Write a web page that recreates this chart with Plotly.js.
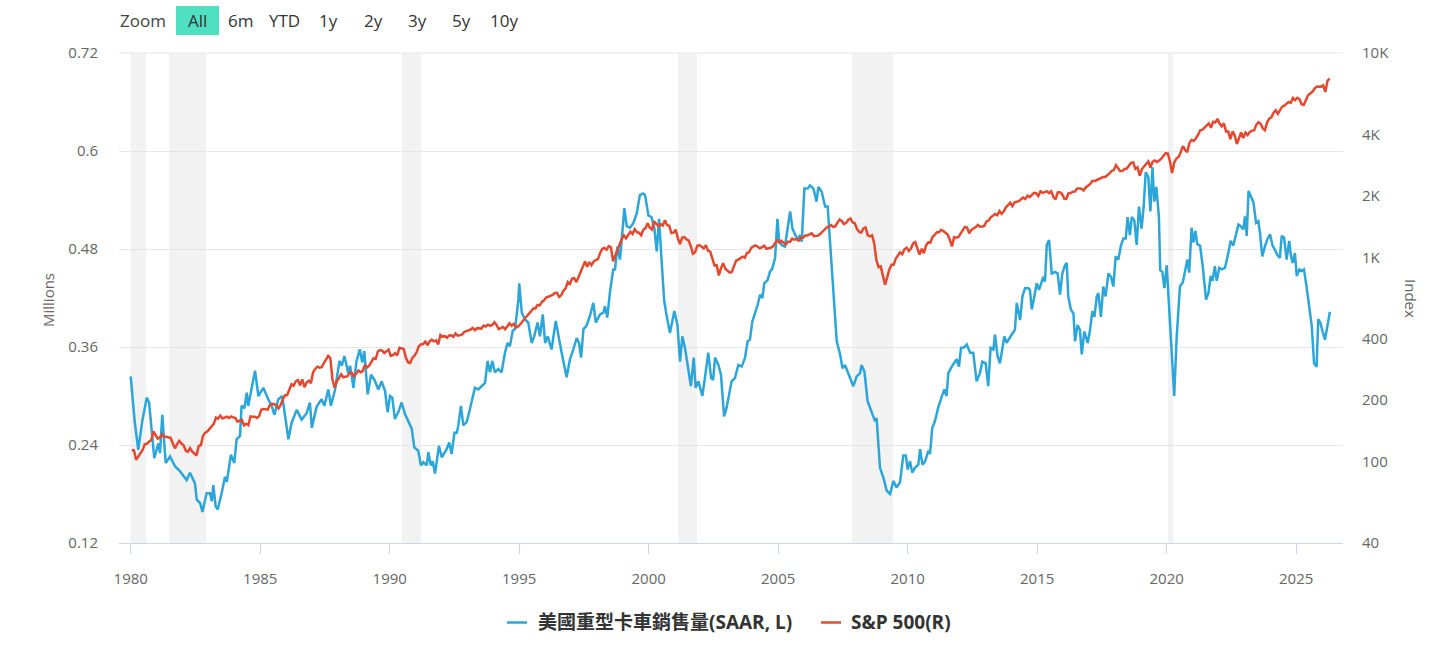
<!DOCTYPE html>
<html><head><meta charset="utf-8">
<script src="https://cdn.plot.ly/plotly-3.0.1.min.js"></script>
<style>html,body{margin:0;padding:0;background:#fff;}#chart{width:1456px;height:651px;}</style>
</head><body><div id="chart"></div>
<script>
// ---------------- data ----------------
const seriesNames = ['美國重型卡車銷售量(SAAR, L)', 'S&P 500(R)'];
const seriesColors = ['#2ca6d8', '#e4492f'];
const leftTicks = [0.12, 0.24, 0.36, 0.48, 0.6, 0.72];
const leftTickText = ['0.12', '0.24', '0.36', '0.48', '0.6', '0.72'];
const rightTicks = [40, 100, 200, 400, 1000, 2000, 4000, 10000];
const rightTickText = ['40', '100', '200', '400', '1K', '2K', '4K', '10K'];
const xTicks = [1980, 1985, 1990, 1995, 2000, 2005, 2010, 2015, 2020, 2025];
const xTickText = ['1980', '1985', '1990', '1995', '2000', '2005', '2010', '2015', '2020', '2025'];
const zoomLabel = 'Zoom';
const rangeButtons = ['All', '6m', 'YTD', '1y', '2y', '3y', '5y', '10y'];
const leftTitle = 'Millions';
const rightTitle = 'Index';
const recessionStart = [1980.0, 1981.48, 1990.48, 2001.13, 2007.85, 2020.05];
const recessionEnd   = [1980.6, 1982.91, 1991.21, 2001.87, 2009.43, 2020.25];

// US heavy truck sales, SAAR, millions
const truckYears = [
1980.00,1980.15,1980.29,1980.45,1980.62,1980.71,1980.91,1981.07,1981.13,1981.22,1981.35,1981.52,1981.71,1981.90,
1982.16,1982.29,1982.48,1982.55,1982.68,1982.77,1982.93,1983.06,1983.13,1983.19,1983.28,1983.36,1983.51,1983.64,1983.71,1983.87,
1984.00,1984.09,1984.22,1984.28,1984.39,1984.48,1984.54,1984.80,1984.93,1985.12,1985.31,1985.44,1985.55,1985.70,1985.85,
1986.09,1986.21,1986.41,1986.60,1986.79,1986.92,1986.99,1987.18,1987.37,1987.48,1987.63,1987.73,1987.89,
1988.06,1988.15,1988.25,1988.40,1988.47,1988.60,1988.72,1988.85,1988.94,1989.02,1989.15,1989.28,1989.41,1989.56,1989.69,1989.82,1989.92,
1990.01,1990.10,1990.20,1990.33,1990.46,1990.59,1990.72,1990.85,1990.95,1991.10,1991.21,1991.30,1991.43,1991.49,1991.59,1991.66,1991.75,1991.90,
1992.01,1992.20,1992.30,1992.39,1992.50,1992.59,1992.65,1992.75,1992.84,1992.97,1993.10,1993.29,1993.42,1993.55,1993.68,1993.78,1993.87,1993.96,
1994.06,1994.19,1994.32,1994.45,1994.55,1994.64,1994.75,1994.84,1994.97,1995.00,1995.10,1995.22,1995.35,1995.48,1995.58,1995.71,1995.80,1995.91,
1996.00,1996.10,1996.25,1996.41,1996.51,1996.64,1996.83,1996.96,1997.09,1997.22,1997.31,1997.39,1997.48,1997.60,1997.73,1997.86,1997.96,
1998.12,1998.25,1998.31,1998.40,1998.50,1998.63,1998.70,1998.79,1998.89,1998.98,1999.06,1999.15,1999.28,1999.41,1999.54,1999.66,1999.79,1999.86,1999.99,
2000.11,2000.22,2000.31,2000.40,2000.50,2000.60,2000.69,2000.82,2000.99,2001.11,2001.21,2001.30,2001.40,2001.50,2001.63,2001.74,2001.81,2001.92,
2002.07,2002.17,2002.30,2002.41,2002.49,2002.56,2002.69,2002.79,2002.91,2003.01,2003.10,2003.20,2003.33,2003.46,2003.59,2003.72,2003.82,2003.91,
2004.00,2004.13,2004.21,2004.30,2004.39,2004.46,2004.59,2004.68,2004.77,2004.88,2004.97,2005.04,2005.13,2005.26,2005.39,2005.46,2005.55,2005.65,2005.75,2005.84,2005.91,
2006.01,2006.14,2006.23,2006.36,2006.48,2006.55,2006.68,2006.81,2006.91,2007.00,2007.13,2007.26,2007.39,2007.48,2007.58,2007.68,2007.81,2007.90,
2008.03,2008.16,2008.22,2008.33,2008.45,2008.61,2008.74,2008.80,2008.93,2009.06,2009.19,2009.32,2009.45,2009.57,2009.70,2009.83,2009.93,
2010.00,2010.09,2010.18,2010.28,2010.41,2010.48,2010.57,2010.67,2010.80,2010.86,2010.95,2011.05,2011.18,2011.31,2011.41,2011.50,2011.57,2011.70,2011.80,2011.89,2011.98,
2012.06,2012.15,2012.28,2012.41,2012.53,2012.66,2012.79,2012.88,2013.01,2013.11,2013.20,2013.31,2013.37,2013.47,2013.56,2013.65,2013.73,2013.82,2013.91,
2014.01,2014.14,2014.21,2014.34,2014.43,2014.53,2014.66,2014.72,2014.79,2014.89,2014.98,2015.07,2015.17,2015.24,2015.30,2015.37,2015.46,2015.56,2015.69,2015.79,2015.88,2015.97,
2016.07,2016.14,2016.20,2016.30,2016.40,2016.46,2016.56,2016.65,2016.72,2016.82,2016.95,2017.04,2017.13,2017.21,2017.30,2017.36,2017.46,2017.55,2017.64,2017.75,2017.85,2017.94,
2018.03,2018.13,2018.24,2018.33,2018.42,2018.49,2018.58,2018.65,2018.75,2018.84,2018.93,2019.03,2019.11,2019.19,2019.29,2019.37,2019.45,2019.52,2019.60,2019.70,2019.75,2019.83,2019.91,
2020.00,2020.09,2020.19,2020.29,2020.38,2020.51,2020.62,2020.71,2020.80,2020.87,2020.96,2021.03,2021.11,2021.18,2021.29,2021.39,2021.52,2021.61,2021.70,2021.77,2021.86,2021.93,
2022.03,2022.12,2022.25,2022.38,2022.47,2022.57,2022.68,2022.77,2022.86,2022.96,2023.02,2023.09,2023.16,2023.25,2023.35,2023.45,2023.54,2023.60,2023.69,2023.80,2023.89,2023.99,
2024.09,2024.18,2024.27,2024.37,2024.44,2024.53,2024.63,2024.73,2024.80,2024.86,2024.95,2025.02,2025.12,2025.21,2025.30,2025.40,2025.51,2025.60,2025.69,2025.79,2025.85,2025.94,
2026.02,2026.11,2026.18,2026.30
];
const truckSales = [
0.324,0.270,0.234,0.270,0.298,0.292,0.224,0.242,0.230,0.277,0.218,0.226,0.214,0.208,
0.197,0.206,0.193,0.173,0.169,0.158,0.181,0.181,0.171,0.191,0.165,0.161,0.181,0.201,0.195,0.228,
0.218,0.247,0.251,0.288,0.285,0.304,0.288,0.331,0.300,0.310,0.296,0.288,0.277,0.296,0.300,
0.247,0.267,0.283,0.271,0.279,0.292,0.261,0.287,0.296,0.288,0.308,0.288,0.308,
0.343,0.337,0.349,0.328,0.337,0.310,0.343,0.357,0.341,0.355,0.302,0.326,0.320,0.308,0.318,0.306,0.280,
0.300,0.298,0.272,0.280,0.292,0.278,0.268,0.260,0.237,0.233,0.215,0.219,0.215,0.231,0.215,0.220,0.205,0.239,
0.225,0.235,0.243,0.229,0.255,0.255,0.264,0.288,0.264,0.268,0.284,0.310,0.308,0.312,0.316,0.343,0.329,0.343,
0.329,0.333,0.329,0.353,0.365,0.361,0.380,0.382,0.418,0.438,0.402,0.394,0.390,0.365,0.373,0.390,0.373,0.400,
0.365,0.373,0.357,0.392,0.373,0.353,0.323,0.345,0.357,0.371,0.365,0.347,0.382,0.386,0.398,0.414,0.390,
0.400,0.402,0.410,0.396,0.426,0.455,0.455,0.483,0.467,0.500,0.530,0.508,0.506,0.512,0.524,0.546,0.548,0.546,0.521,
0.519,0.505,0.477,0.517,0.465,0.416,0.399,0.377,0.404,0.387,0.342,0.373,0.359,0.338,0.312,0.347,0.310,0.318,
0.300,0.322,0.353,0.322,0.320,0.347,0.338,0.326,0.275,0.286,0.302,0.318,0.322,0.338,0.336,0.347,0.367,0.369,
0.391,0.404,0.412,0.424,0.420,0.438,0.442,0.452,0.456,0.469,0.517,0.489,0.485,0.483,0.509,0.526,0.505,0.497,0.491,0.497,0.489,
0.554,0.554,0.558,0.554,0.538,0.556,0.550,0.532,0.532,0.489,0.428,0.367,0.351,0.334,0.338,0.330,0.318,0.312,
0.324,0.328,0.338,0.330,0.294,0.281,0.269,0.273,0.212,0.200,0.184,0.180,0.196,0.188,0.194,0.227,0.227,
0.210,0.220,0.206,0.212,0.216,0.235,0.216,0.220,0.233,0.229,0.261,0.269,0.286,0.300,0.308,0.300,0.328,0.336,0.340,0.345,0.336,
0.359,0.359,0.363,0.353,0.353,0.318,0.328,0.342,0.340,0.312,0.359,0.357,0.375,0.349,0.340,0.357,0.373,0.365,0.369,
0.375,0.381,0.414,0.393,0.422,0.432,0.432,0.430,0.406,0.422,0.438,0.430,0.440,0.446,0.440,0.485,0.491,0.450,0.452,0.450,0.424,0.450,
0.460,0.463,0.422,0.406,0.401,0.367,0.387,0.381,0.351,0.379,0.365,0.381,0.404,0.397,0.422,0.426,0.397,0.434,0.422,0.450,0.446,0.434,
0.471,0.467,0.485,0.493,0.493,0.519,0.497,0.519,0.515,0.485,0.532,0.505,0.532,0.574,0.568,0.526,0.580,0.538,0.556,0.519,0.454,0.452,0.432,
0.460,0.410,0.357,0.300,0.369,0.434,0.439,0.455,0.467,0.451,0.506,0.488,0.502,0.486,0.484,0.459,0.418,0.426,0.447,0.441,0.459,0.441,
0.457,0.455,0.457,0.475,0.490,0.484,0.500,0.510,0.508,0.504,0.520,0.496,0.551,0.545,0.537,0.512,0.514,0.500,0.471,0.484,0.492,0.498,
0.484,0.479,0.473,0.469,0.496,0.494,0.467,0.490,0.471,0.463,0.475,0.447,0.455,0.453,0.455,0.434,0.410,0.386,0.340,0.336,0.394,0.389,
0.379,0.369,0.381,0.403
];

// S&P 500 monthly close, starting January 1980
const sp500StartYear = 1980;
const sp500 = [
114.2,113.7,102.1,106.3,111.2,114.2,121.7,122.4,125.5,127.5,140.5,135.8,
129.6,131.3,136.0,132.8,132.6,131.2,130.9,122.8,116.2,121.9,126.4,122.6,
120.4,113.1,112.0,116.4,111.9,109.6,107.1,119.5,120.4,133.7,138.5,140.6,
145.3,148.1,153.0,164.4,162.4,168.1,162.6,164.4,166.1,163.6,166.4,164.9,
163.4,157.1,159.2,160.1,150.6,153.2,150.7,166.7,166.1,166.1,163.6,167.2,
179.6,181.2,180.7,179.8,189.6,191.9,190.9,188.6,182.1,189.8,202.2,211.3,
211.8,226.9,238.9,235.5,247.4,250.8,236.1,252.9,231.3,244.0,249.2,242.2,
274.1,284.2,291.7,288.4,290.1,304.0,318.7,329.8,321.8,251.8,230.3,247.1,
257.1,267.8,258.9,261.3,262.2,273.5,272.0,261.5,271.9,279.0,273.7,277.7,
297.5,288.9,294.9,309.6,320.5,318.0,346.1,351.5,349.2,340.4,346.0,353.4,
329.1,331.9,339.9,330.8,361.2,358.0,356.2,322.6,306.1,304.0,322.2,330.2,
343.9,367.1,375.2,375.3,389.8,371.2,387.8,395.4,387.9,392.5,375.2,417.1,
408.8,412.7,403.7,415.0,415.4,408.1,424.2,414.0,417.8,418.7,431.4,435.7,
438.8,443.4,451.7,440.2,450.2,450.5,448.1,463.6,458.9,467.8,461.8,466.5,
481.6,467.1,445.8,450.9,456.5,444.3,458.3,475.5,462.7,472.4,453.7,459.3,
470.4,487.4,500.7,514.7,533.4,544.8,562.1,561.9,584.4,581.5,605.4,615.9,
636.0,640.4,645.5,654.2,669.1,670.6,640.0,652.0,687.3,705.3,757.0,740.7,
786.2,790.8,757.1,801.3,848.3,885.1,954.3,899.5,947.3,914.6,955.4,970.4,
980.3,1049.3,1101.8,1111.8,1090.8,1133.8,1120.7,957.3,1017.0,1098.7,1163.6,1229.2,
1279.6,1238.3,1286.4,1335.2,1301.8,1372.7,1328.7,1320.4,1282.7,1362.9,1388.9,1469.3,
1394.5,1366.4,1498.6,1452.4,1420.6,1454.6,1430.8,1517.7,1436.5,1429.4,1315.2,1320.3,
1366.0,1239.9,1160.3,1249.5,1255.8,1224.4,1211.2,1133.6,1040.9,1059.8,1139.5,1148.1,
1130.2,1106.7,1147.4,1076.9,1067.1,989.8,911.6,916.1,815.3,885.8,936.3,879.8,
855.7,841.2,848.2,916.9,963.6,974.5,990.3,1008.0,996.0,1050.7,1058.2,1111.9,
1131.1,1144.9,1126.2,1107.3,1120.7,1140.8,1101.7,1104.2,1114.6,1130.2,1173.8,1211.9,
1181.3,1203.6,1180.6,1156.9,1191.5,1191.3,1234.2,1220.3,1228.8,1207.0,1249.5,1248.3,
1280.1,1280.7,1294.8,1310.6,1270.1,1270.2,1276.7,1303.8,1335.9,1377.9,1400.6,1418.3,
1438.2,1406.8,1420.9,1482.4,1530.6,1503.4,1455.3,1474.0,1526.8,1549.4,1481.1,1468.4,
1378.6,1330.6,1322.7,1385.6,1400.4,1280.0,1267.4,1282.8,1166.4,968.8,896.2,903.3,
825.9,735.1,797.9,872.8,919.1,919.3,987.5,1020.6,1057.1,1036.2,1095.6,1115.1,
1073.9,1104.5,1169.4,1186.7,1089.4,1030.7,1101.6,1049.3,1141.2,1183.3,1180.6,1257.6,
1286.1,1327.2,1325.8,1363.6,1345.2,1320.6,1292.3,1218.9,1131.4,1253.3,1247.0,1257.6,
1312.4,1365.7,1408.5,1397.9,1310.3,1362.2,1379.3,1406.6,1440.7,1412.2,1416.2,1426.2,
1498.1,1514.7,1569.2,1597.6,1630.7,1606.3,1685.7,1633.0,1681.6,1756.5,1805.8,1848.4,
1782.6,1859.5,1872.3,1884.0,1923.6,1960.2,1930.7,2003.4,1972.3,2018.1,2067.6,2058.9,
1995.0,2104.5,2067.9,2085.5,2107.4,2063.1,2103.8,1972.2,1920.0,2079.4,2080.4,2043.9,
1940.2,1932.2,2059.7,2065.3,2097.0,2098.9,2173.6,2171.0,2168.3,2126.2,2198.8,2238.8,
2278.9,2363.6,2362.7,2384.2,2411.8,2423.4,2470.3,2471.7,2519.4,2575.3,2647.6,2673.6,
2823.8,2713.8,2640.9,2648.1,2705.3,2718.4,2816.3,2901.5,2914.0,2711.7,2760.2,2506.9,
2704.1,2784.5,2834.4,2945.8,2752.1,2941.8,2980.4,2926.5,2976.7,3037.6,3141.0,3230.8,
3225.5,2954.2,2584.6,2912.4,3044.3,3100.3,3271.1,3500.3,3363.0,3270.0,3621.6,3756.1,
3714.2,3811.2,3972.9,4181.2,4204.1,4297.5,4395.3,4522.7,4307.5,4605.4,4567.0,4766.2,
4515.6,4373.9,4530.4,4131.9,4132.2,3785.4,4130.3,3955.0,3585.6,3872.0,4080.1,3839.5,
4076.6,3970.2,4109.3,4169.5,4179.8,4450.4,4589.0,4507.7,4288.1,4193.8,4567.8,4769.8,
4845.7,5096.3,5254.4,5035.7,5277.5,5460.5,5522.3,5648.4,5762.5,5705.5,6032.4,5881.6,
6040.5,5954.5,5611.9,5569.1,5911.7,6205.0,6339.4,6460.3,6688.5,6840.2,6849.1,6845.5,
6940.0,6450.0,7300.0,7500.0
];

// ---------------- layout helpers ----------------
const W = 1456, H = 651;
const PL = 119, PR = 1343, PT = 53, PB = 543;
const px = v => (v - PL) / (PR - PL);
const py = v => (PB - v) / (PB - PT);
const FONT = '"Open Sans", "Noto Sans CJK TC", sans-serif';

const spX = sp500.map((_, i) => sp500StartYear + (i + 0.5) / 12);

const traces = [
  { x: truckYears, y: truckSales, type: 'scatter', mode: 'lines', name: seriesNames[0],
    line: { color: seriesColors[0], width: 2.5 }, yaxis: 'y', hoverinfo: 'skip', showlegend: false },
  { x: spX, y: sp500, type: 'scatter', mode: 'lines', name: seriesNames[1],
    line: { color: seriesColors[1], width: 2.5 }, yaxis: 'y2', hoverinfo: 'skip', showlegend: false }
];

const shapes = recessionStart.map((s, i) => ({
  type: 'rect', xref: 'x', yref: 'paper', x0: s, x1: recessionEnd[i], y0: 0, y1: 1,
  fillcolor: '#f2f2f2', line: { width: 0 }, layer: 'below'
}));
// top grid line at 0.72
shapes.push({ type: 'line', xref: 'paper', yref: 'paper', x0: 0, x1: 1, y0: 1, y1: 1,
  line: { color: '#e6e6e6', width: 1 }, layer: 'below' });
// "All" active button background
shapes.push({ type: 'rect', xref: 'paper', yref: 'paper', x0: px(176), x1: px(219), y0: py(35), y1: py(6),
  fillcolor: '#4ee0c1', line: { width: 0 } });
// legend symbols
const legendSymX = [507, 821];
const legendTextX = [535.5, 849];
legendSymX.forEach((lx, i) => shapes.push({ type: 'line', xref: 'paper', yref: 'paper',
  x0: px(lx), x1: px(lx + 20), y0: py(622.5), y1: py(622.5), line: { color: seriesColors[i], width: 2.5 } }));

const btnCenters = [197, 240, 284, 328, 373, 417, 461, 504];
const annotations = [
  { text: zoomLabel, xref: 'paper', yref: 'paper', x: px(118), y: py(20.5), xanchor: 'left', yanchor: 'middle',
    showarrow: false, font: { family: FONT, size: 17, color: '#444' } },
  ...rangeButtons.map((b, i) => ({ text: b, xref: 'paper', yref: 'paper', x: px(btnCenters[i]), y: py(20.5),
    xanchor: 'center', yanchor: 'middle', showarrow: false, font: { family: FONT, size: 17, color: '#333' } })),
  { text: leftTitle, xref: 'paper', yref: 'paper', x: px(48), y: py(300), xanchor: 'center', yanchor: 'middle',
    textangle: -90, showarrow: false, font: { family: FONT, size: 15, color: '#666' } },
  { text: rightTitle, xref: 'paper', yref: 'paper', x: px(1411), y: py(298), xanchor: 'center', yanchor: 'middle',
    textangle: 90, showarrow: false, font: { family: FONT, size: 15, color: '#666' } },
  ...seriesNames.map((n, i) => ({ text: '<b>' + n + '</b>', xref: 'paper', yref: 'paper', x: px(legendTextX[i]),
    y: py(621.5), xanchor: 'left', yanchor: 'middle', showarrow: false,
    font: { family: FONT, size: 19, color: '#333' } }))
];

const tickFont = { family: FONT, size: 15, color: '#666' };

const layout = {
  width: W, height: H,
  margin: { l: PL, r: W - PR, t: PT, b: H - PB, pad: 0 },
  paper_bgcolor: '#ffffff', plot_bgcolor: '#ffffff',
  font: { family: FONT },
  showlegend: false,
  xaxis: { range: [1979.548, 2026.807], tickvals: xTicks, ticktext: xTickText, showgrid: false,
    showline: true, linecolor: '#ccd6eb', linewidth: 1, ticks: 'outside', ticklen: 10, tickcolor: '#ccd6eb',
    tickwidth: 1, ticklabelstandoff: 12, tickfont: tickFont, zeroline: false, fixedrange: true },
  yaxis: { range: [0.12, 0.72], tickvals: leftTicks, ticktext: leftTickText, showgrid: true,
    gridcolor: '#e6e6e6', gridwidth: 1, zeroline: false, showline: false, ticks: '',
    ticklabelstandoff: 20, tickfont: tickFont, fixedrange: true },
  yaxis2: { overlaying: 'y', side: 'right', type: 'log', range: [Math.log10(40), 4],
    tickvals: rightTicks, ticktext: rightTickText, showgrid: false, zeroline: false, showline: false,
    ticks: '', ticklabelstandoff: 18, tickfont: tickFont, fixedrange: true },
  shapes: shapes,
  annotations: annotations
};

Plotly.newPlot('chart', traces, layout, { displayModeBar: false, staticPlot: true });
</script>
</body></html>
